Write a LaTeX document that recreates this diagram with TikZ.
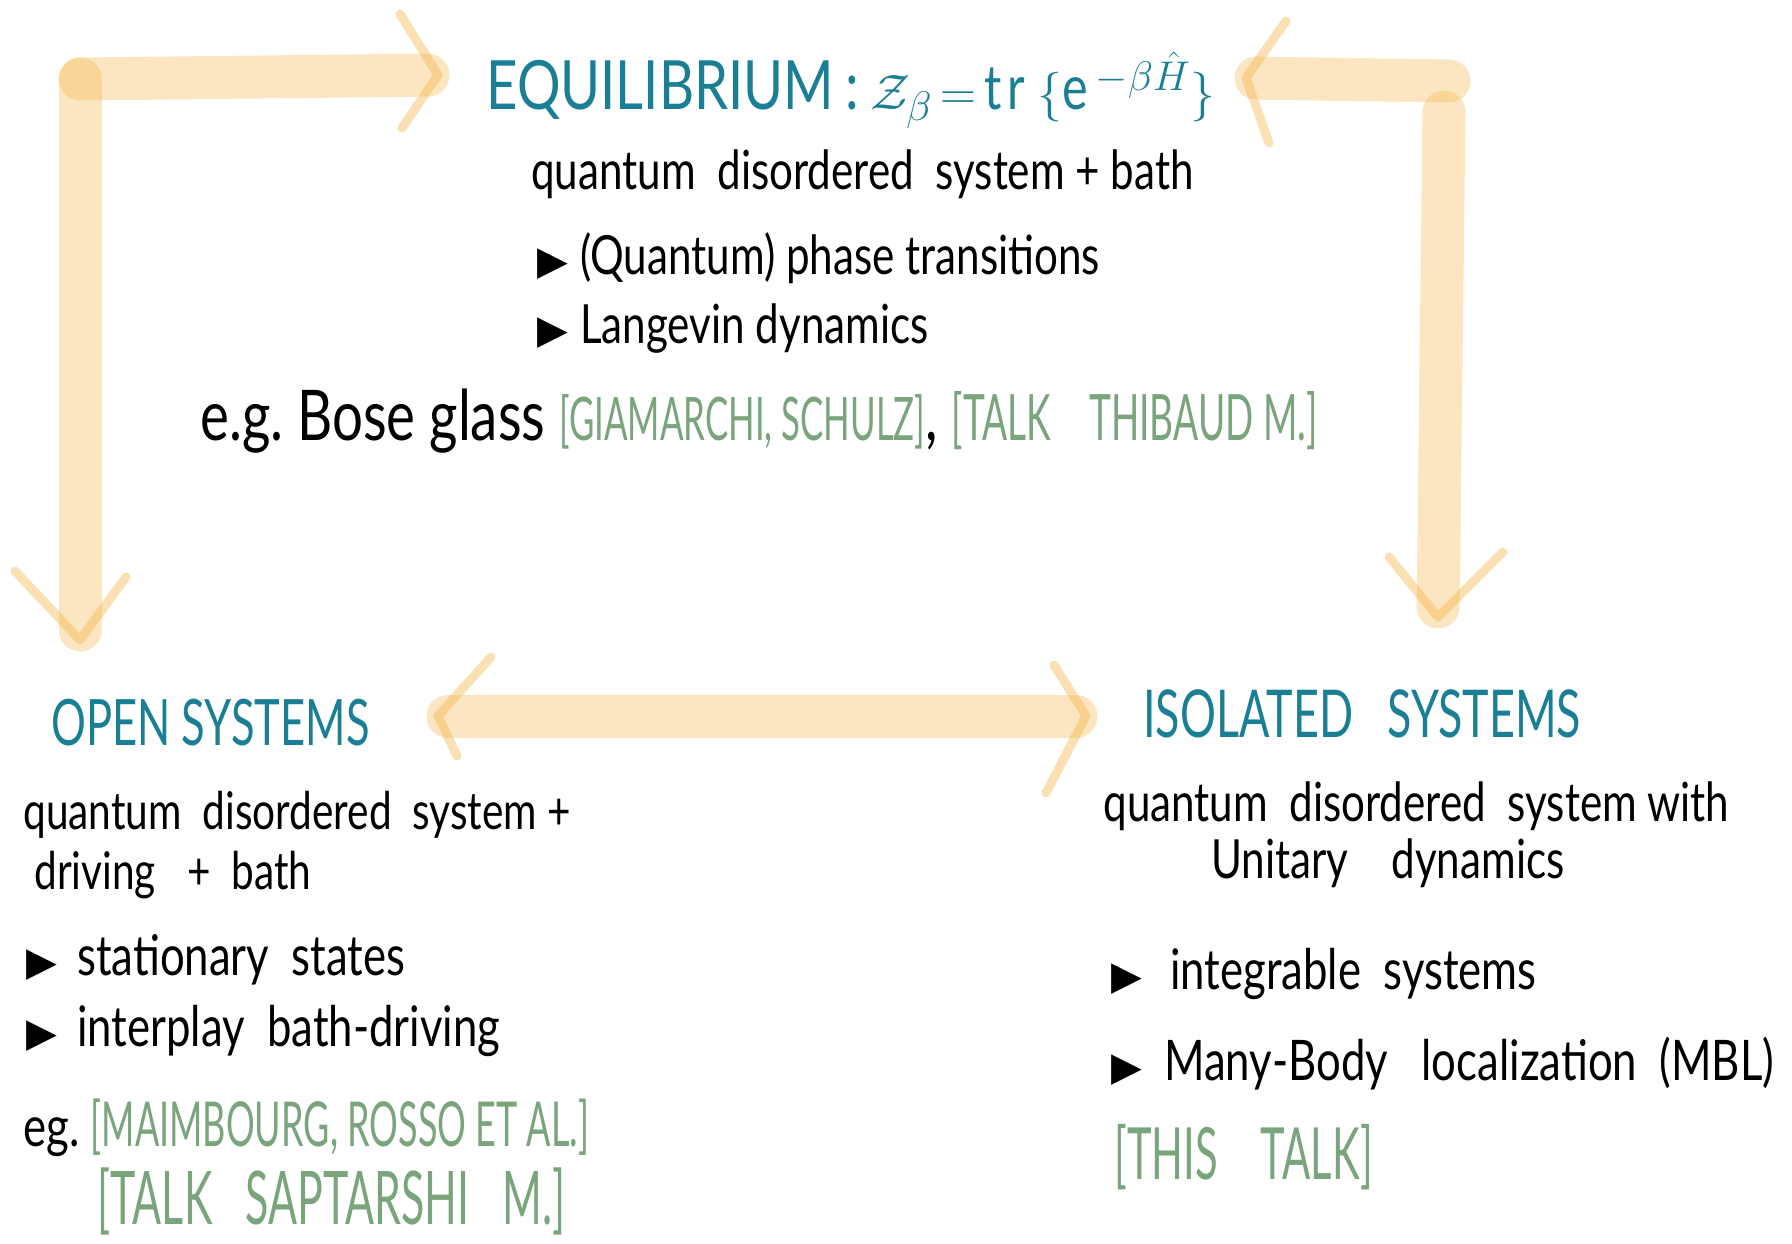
\documentclass[tikz,border=0pt]{standalone}
\usepackage{fontspec}
\setmainfont{Lato}[FakeStretch=0.78]
\newfontfamily\headf{Lato}[FakeStretch=0.68]
\newfontfamily\eqf{Lato}[FakeStretch=0.8]
\newfontfamily\reff{Lato}[FakeStretch=0.58]
\newfontfamily\symf{DejaVu Sans}
\usepackage{tikz}
\usetikzlibrary{calc}
\definecolor{tealc}{HTML}{1A7F95}
\definecolor{refc}{HTML}{7AA57C}
\definecolor{barc}{HTML}{F5B240}
\tikzset{
  bar/.style={line width=21.5pt,barc,opacity=0.32,line cap=round,shorten >=5pt},
  tipln/.style={line width=4.5pt,barc,opacity=0.4,line cap=round,line join=round},
  head/.style={anchor=base west,inner sep=0pt,tealc},
  txt/.style={anchor=base west,inner sep=0pt}
}
\newcommand{\bul}{{\symf\fontsize{20}{20}\selectfont ▶}}
\newcommand{\lit}[1]{{\reff\color{refc}#1}}

\begin{document}
\begin{tikzpicture}[x=0.5pt,y=-0.5pt]
\useasboundingbox (0,0) rectangle (1792,1243);
% equilibrium
\node[head,font=\eqf\fontsize{34}{40}\selectfont] (eqtitle) at (486,109) {EQUILIBRIUM\,:\,{\fontsize{31}{36}\selectfont$\mathcal{Z}_\beta\,{=}\,\mathrm{tr}\,\{\mathrm{e}^{-\beta\hat{H}}\}$}};
\node[txt,font=\fontsize{27}{32}\selectfont] (eqline) at (531,189) {quantum\ \ disordered\ \ system + bath};
\node[txt,font=\fontsize{27}{32}\selectfont] (eqbulA) at (537,274) {\bul\hspace{6pt}(Quantum) phase transitions};
\node[txt,font=\fontsize{27}{32}\selectfont] (eqbulB) at (537,343) {\bul\hspace{6pt}Langevin dynamics};
\node[txt,font=\fontsize{35}{40}\selectfont] (eqex) at (200,440) {e.g.\ Bose glass \lit{\fontsize{30}{36}\selectfont[GIAMARCHI, SCHULZ]}, \lit{\fontsize{32}{38}\selectfont[TALK\ \ \ \ THIBAUD\ M.]}};
% open systems
\node[head,font=\headf\fontsize{32}{38}\selectfont] (optitle) at (51,745) {OPEN\ SYSTEMS};
\node[txt,font=\fontsize{26}{31}\selectfont] (opline1) at (23,829) {quantum\ \ disordered\ \ system +};
\node[txt,font=\fontsize{26}{31}\selectfont] (opline2) at (34,889) {driving\ \ \ +\ \ bath};
\node[txt,font=\fontsize{28}{33}\selectfont] (opbulA) at (26,975) {\bul\hspace{10pt}stationary\ \ states};
\node[txt,font=\fontsize{28}{33}\selectfont] (opbulB) at (26,1046) {\bul\hspace{10pt}interplay\ \ bath-driving};
\node[txt,font=\fontsize{28}{33}\selectfont] (opex1) at (23,1146) {eg.\ \lit{\fontsize{31}{36}\selectfont[MAIMBOURG, ROSSO ET AL.]}};
\node[txt] (opex2) at (97,1224) {\lit{\fontsize{37}{42}\selectfont[TALK\ \ \ SAPTARSHI\ \ \ M.]}};
% isolated systems
\node[head,font=\headf\fontsize{33}{39}\selectfont] (isotitle) at (1143,737) {ISOLATED\ \ \ SYSTEMS};
\node[txt,font=\fontsize{27}{32}\selectfont] (isoline1) at (1103,821) {quantum\ \ disordered\ \ system with};
\node[txt,font=\fontsize{27}{32}\selectfont] (isoline2) at (1211,878) {Unitary\ \ \ \ dynamics};
\node[txt,font=\fontsize{28}{33}\selectfont] (isobulA) at (1111,989) {\bul\hspace{14pt}integrable\ \ systems};
\node[txt,font=\fontsize{28}{33}\selectfont] (isobulB) at (1111,1080) {\bul\hspace{11pt}Many-Body\ \ \ localization\ \ (MBL)};
\node[txt] (isoex) at (1114,1179) {\lit{\fontsize{36}{42}\selectfont[THIS\ \ \ \ TALK]}};
% arrows
\coordinate (tlC) at (80,79);
\coordinate (tlR) at (438,75);
\coordinate (tlD) at (80,640);
\draw[bar] (tlC) -- (tlR);
\draw[bar] (tlC) -- (tlD);
\draw[tipln] ($(tlR)+(-38,-61)$) -- (tlR) -- ($(tlR)+(-36,53)$);
\draw[tipln] ($(tlD)+(-65,-69)$) -- (tlD) -- ($(tlD)+(46,-63)$);
\coordinate (trC) at (1449,81);
\coordinate (trL) at (1246,78);
\coordinate (trV) at (1444,112);
\coordinate (trD) at (1438,617);
\draw[bar] (trC) -- (trL);
\draw[bar] (trV) -- (trD);
\draw[tipln] ($(trL)+(40,-57)$) -- (trL) -- ($(trL)+(23,65)$);
\draw[tipln] ($(trD)+(-49,-60)$) -- (trD) -- ($(trD)+(65,-65)$);
\coordinate (midL) at (438,716);
\coordinate (midR) at (1086,716);
\draw[bar,shorten <=5pt] (midL) -- (midR);
\draw[tipln] ($(midL)+(53,-59)$) -- (midL) -- ($(midL)+(19,40)$);
\draw[tipln] ($(midR)+(-32,-51)$) -- (midR) -- ($(midR)+(-40,77)$);
\end{tikzpicture}
\end{document}
